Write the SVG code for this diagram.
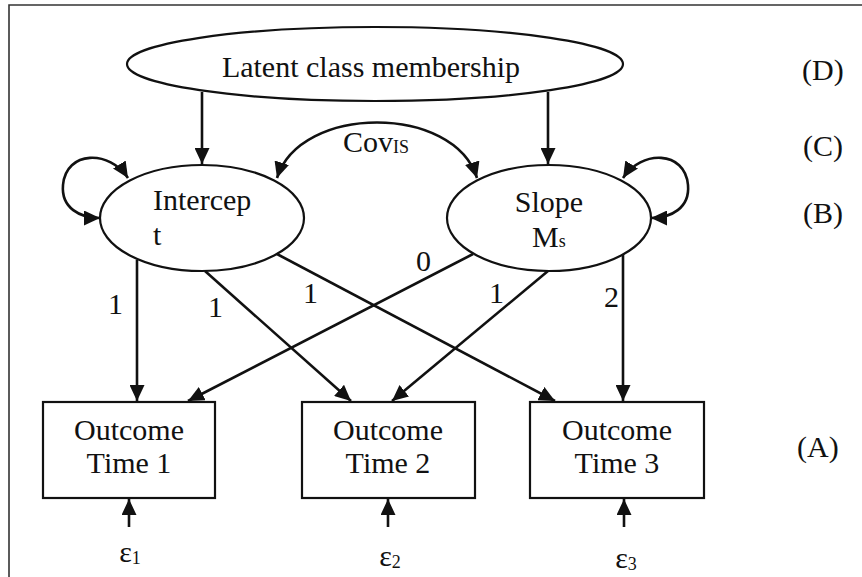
<svg xmlns="http://www.w3.org/2000/svg" width="862" height="577" viewBox="0 0 862 577">
<defs>
<marker id="ah" markerUnits="userSpaceOnUse" markerWidth="17" markerHeight="15" refX="16" refY="7.5" orient="auto-start-reverse" viewBox="0 0 17 15"><path d="M0,0 L16,7.5 L0,15 z" fill="#111"/></marker>
</defs>
<style>
text{font-family:"Liberation Serif","Times New Roman",serif;fill:#111;font-size:30px}
.m{text-anchor:middle}
.shape{fill:#fff;stroke:#111;stroke-width:2.2}
.c{fill:none;stroke:#111;stroke-width:2.6;marker-end:url(#ah)}
.cc{fill:none;stroke:#111;stroke-width:2.6;marker-start:url(#ah);marker-end:url(#ah)}
.sub{font-size:18px}
</style>
<rect width="862" height="577" fill="#fff"/>
<path d="M9 577 V5 H862" fill="none" stroke="#333" stroke-width="1.6"/>
<g id="latent"><ellipse class="shape" cx="375" cy="64" rx="248" ry="37"/><text class="m" x="371" y="77">Latent class membership</text></g>
<g id="intercept"><ellipse class="shape" cx="202" cy="218" rx="102" ry="53"/><text x="153" y="210">Intercep</text><text x="153" y="245">t</text></g>
<g id="slope"><ellipse class="shape" cx="549" cy="218" rx="102" ry="53"/><text class="m" x="549" y="212">Slope</text><text x="532" y="247">M<tspan class="sub">s</tspan></text></g>
<g id="out1"><rect class="shape" x="43" y="402" width="172" height="96"/><text class="m" x="129" y="440">Outcome</text><text class="m" x="129" y="473">Time 1</text></g>
<g id="out2"><rect class="shape" x="302" y="402" width="173" height="96"/><text class="m" x="388" y="440">Outcome</text><text class="m" x="388" y="473">Time 2</text></g>
<g id="out3"><rect class="shape" x="530" y="402" width="174" height="96"/><text class="m" x="617" y="440">Outcome</text><text class="m" x="617" y="473">Time 3</text></g>
<g id="eps1"><text class="m" x="130" y="562">ε<tspan class="sub" dy="2">1</tspan></text></g>
<g id="eps2"><text class="m" x="390" y="566">ε<tspan class="sub" dy="2">2</tspan></text></g>
<g id="eps3"><text class="m" x="626" y="568">ε<tspan class="sub" dy="2">3</tspan></text></g>
<g id="levels"><text x="802" y="80">(D)</text><text x="803" y="156">(C)</text><text x="803" y="223">(B)</text><text x="797" y="457">(A)</text></g>
<g id="connectors">
<path class="c" d="M202 92 V164"/>
<path class="c" d="M548 92 V164"/>
<path class="cc" d="M277 178 C300 104 454 104 477 178"/>
<path class="cc" d="M128 178 C110 150 66 150 63 185 C61 208 80 218 100 218"/>
<path class="cc" d="M623 178 C641 150 685 150 688 185 C690 208 671 218 651 218"/>
<path class="c" d="M137 260 V401"/>
<path class="c" d="M205 271 L351 401"/>
<path class="c" d="M277 254 L555 401"/>
<path class="c" d="M473 254 L188 401"/>
<path class="c" d="M548 271 L392 401"/>
<path class="c" d="M623 254 V401"/>
<path class="c" d="M129 527 V499"/>
<path class="c" d="M388 527 V499"/>
<path class="c" d="M624 527 V499"/>
<text x="343" y="152">Cov<tspan class="sub" dy="1">IS</tspan></text>
<text x="108" y="314">1</text>
<text x="208" y="317">1</text>
<text x="303" y="303">1</text>
<text x="416" y="271">0</text>
<text x="489" y="303">1</text>
<text x="604" y="307">2</text>
</g>
</svg>
